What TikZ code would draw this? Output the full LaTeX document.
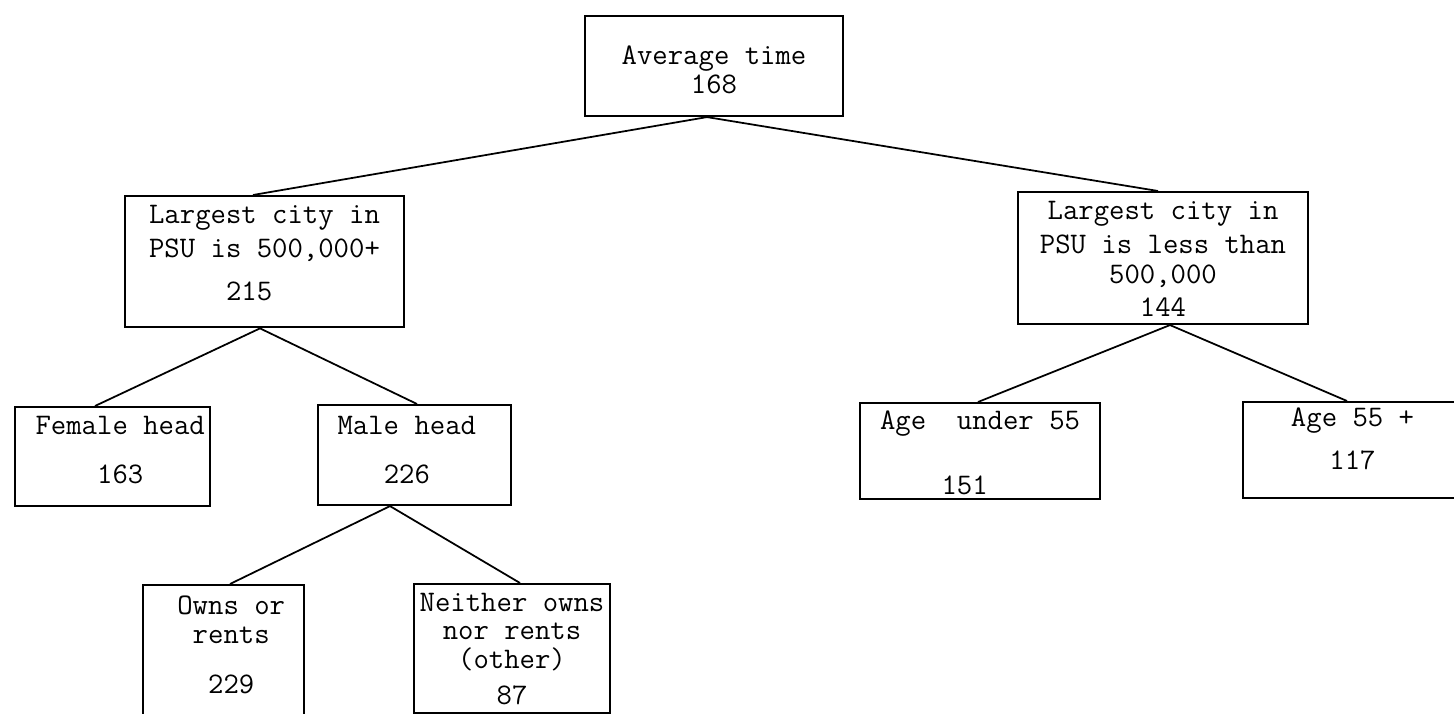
\documentclass[tikz,border=0pt]{standalone}
\usepackage{fontspec}
\usepackage{tikz}
\newcommand{\typefont}{\ttfamily\fontsize{17}{17}\selectfont}
\newcommand{\padtop}[1]{\rule{0pt}{#1}}
\newcommand{\padbot}[1]{\rule[-#1]{0pt}{#1}}
\tikzset{
  cbox/.style={draw,line width=1.2pt,align=center,anchor=north,
    inner xsep=0pt,inner ysep=0pt,font=\typefont},
  clink/.style={line width=1pt},
}

\begin{document}
\begin{tikzpicture}
\useasboundingbox (0,0) rectangle (29.08,14.26);
\clip (0,0) rectangle (29.08,14.26);
% root of the tree
\node[cbox,minimum width=5.16cm] (avg) at (14.28,13.96)
  {\padtop{27.3pt}Average time\\[-0.5pt]168\padbot{13.1pt}};
% first split: size of largest city
\node[cbox,minimum width=5.58cm] (big) at (5.29,10.36)
  {\padtop{15.9pt}Largest city in\\[2.3pt]PSU is 500,000+\\[7.5pt]215\phantom{00}\padbot{15pt}};
\node[cbox,minimum width=5.80cm] (small) at (23.26,10.44)
  {\padtop{15.4pt}Largest city in\\[2.3pt]PSU is less than\\[0.6pt]500,000\\[1.8pt]144\padbot{4pt}};
% second split under the big cities
\node[cbox,minimum width=3.90cm] (fem) at (2.25,6.14)
  {\padtop{15.4pt}\phantom{0}Female head\\[10.9pt]\phantom{0}163\padbot{13.1pt}};
\node[cbox,minimum width=3.86cm] (male) at (8.29,6.18)
  {\padtop{16.5pt}Male head\phantom{0}\\[10.9pt]226\phantom{0}\padbot{12.5pt}};
% second split under the smaller cities
\node[cbox,minimum width=4.80cm] (under) at (19.60,6.22)
  {\padtop{14.8pt}Age\ \ under 55\\[20pt]151\phantom{00}\padbot{2.8pt}};
\node[cbox,minimum width=4.38cm] (old) at (27.05,6.24)
  {\padtop{13.7pt}Age 55 +\\[7.5pt]117\padbot{16.5pt}};
% third split under male head
\node[cbox,minimum width=3.22cm] (owns) at (4.47,2.58)
  {\padtop{16.5pt}\phantom{0}Owns or\\[-0.5pt]\phantom{0}rents\\[11.5pt]\phantom{0}229\padbot{22.8pt}};
\node[cbox,minimum width=3.92cm] (other) at (10.24,2.60)
  {\padtop{15.4pt}Neither owns\\[-1.1pt]nor rents\\[-0.5pt](other)\\[3.5pt]87\padbot{5.1pt}};
% branches
\draw[clink] ([xshift=-0.14cm]avg.south) -- ([xshift=-0.23cm]big.north);
\draw[clink] ([xshift=-0.14cm]avg.south) -- ([xshift=-0.10cm]small.north);
\draw[clink] ([xshift=-0.09cm]big.south) -- ([xshift=-0.35cm]fem.north);
\draw[clink] ([xshift=-0.09cm]big.south) -- ([xshift=0.05cm]male.north);
\draw[clink] ([xshift=-0.49cm]male.south) -- ([xshift=0.13cm]owns.north);
\draw[clink] ([xshift=-0.49cm]male.south) -- ([xshift=0.16cm]other.north);
\draw[clink] ([xshift=0.14cm]small.south) -- ([xshift=-0.04cm]under.north);
\draw[clink] ([xshift=0.14cm]small.south) -- ([xshift=-0.11cm]old.north);
\end{tikzpicture}
\end{document}
